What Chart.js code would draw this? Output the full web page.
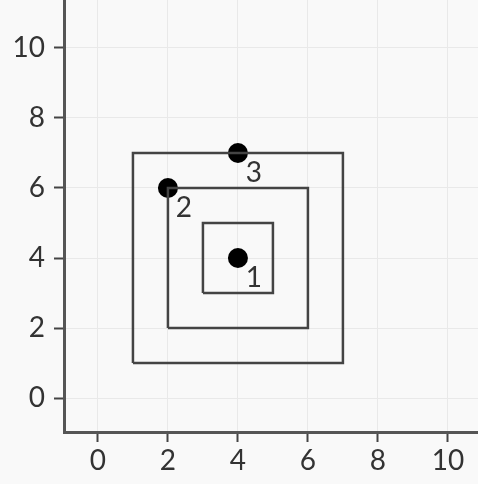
<!DOCTYPE html>
<html>
<head>
<meta charset="utf-8">
<script src="https://cdn.jsdelivr.net/npm/chart.js@4"></script>
<style>
  html, body { margin: 0; padding: 0; background: #f9f9f9; }
  #wrap { width: 478px; height: 484px; }
</style>
</head>
<body>
<div id="wrap"><canvas id="chart"></canvas></div>
<script>
// data
const pointX = [4, 2, 4];
const pointY = [4, 6, 7];
const pointLabels = ['1', '2', '3'];

// squares: lower-left and upper-right corners (data units)
const squareMin = [3, 2, 1];
const squareMax = [5, 6, 7];

const xTicks = [0, 2, 4, 6, 8, 10];
const yTicks = [0, 2, 4, 6, 8, 10];

const FONT = 'Lato, sans-serif';
const INK = '#333';

const squareSets = squareMin.map((lo, i) => {
  const hi = squareMax[i];
  return {
    data: [
      { x: lo, y: lo }, { x: hi, y: lo }, { x: hi, y: hi },
      { x: lo, y: hi }, { x: lo, y: lo }
    ],
    showLine: true,
    borderColor: '#444',
    borderWidth: 2.5,
    pointRadius: 0,
    fill: false
  };
});

const pointSet = {
  data: pointX.map((x, i) => ({ x, y: pointY[i] })),
  backgroundColor: '#000',
  borderColor: '#000',
  pointRadius: 10,
  borderWidth: 0
};

// number each dot, down-right of it
const numberLabels = {
  id: 'numberLabels',
  afterDatasetsDraw(chart) {
    const meta = chart.getDatasetMeta(chart.data.datasets.length - 1);
    const ctx = chart.ctx;
    ctx.save();
    ctx.fillStyle = INK;
    ctx.font = '28px ' + FONT;
    ctx.textAlign = 'center';
    ctx.textBaseline = 'middle';
    meta.data.forEach((el, i) => {
      ctx.fillText(pointLabels[i], el.x + 16, el.y + 20);
    });
    ctx.restore();
  }
};

// no overflow padding: plot fills to the canvas edges
const noPad = s => { s.paddingTop = s.paddingBottom = s.paddingLeft = s.paddingRight = 0; };

const axisCommon = (ticks) => ({
  type: 'linear',
  afterBuildTicks: s => { s.ticks = ticks.map(v => ({ value: v })); },
  grid: { color: '#e9e9e9', lineWidth: 1, tickColor: '#444', tickLength: 10, tickWidth: 2 },
  border: { color: '#555', width: 3 },
  ticks: { color: INK, font: { family: FONT, size: 28 } }
});

const xAxis = Object.assign(axisCommon(xTicks), {
  min: -0.97, max: 10.86,
  afterFit: s => { s.height = 52; noPad(s); }
});
xAxis.ticks.padding = 2;
xAxis.ticks.maxRotation = 0;

const yAxis = Object.assign(axisCommon(yTicks), {
  min: -0.97, max: 11.37,
  afterFit: s => { s.width = 64; noPad(s); }
});
yAxis.ticks.padding = 9;

new Chart(document.getElementById('chart'), {
  type: 'scatter',
  data: { datasets: [...squareSets, pointSet] },
  options: {
    responsive: true,
    maintainAspectRatio: false,
    animation: false,
    layout: { padding: 0, autoPadding: false },
    plugins: { legend: { display: false }, tooltip: { enabled: false } },
    scales: { x: xAxis, y: yAxis }
  },
  plugins: [numberLabels]
});
</script>
</body>
</html>
